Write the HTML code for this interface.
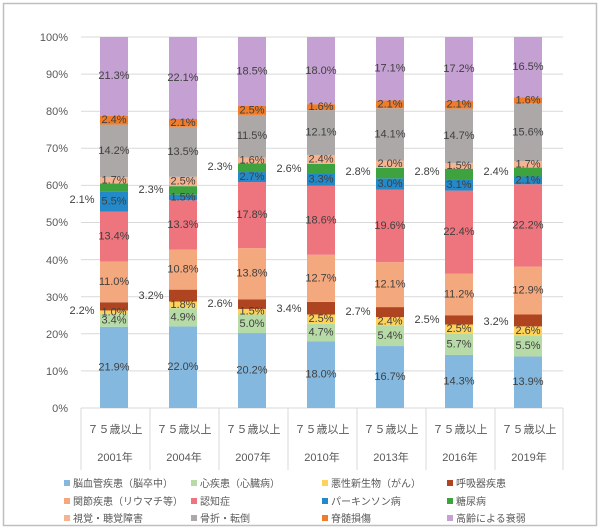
<!DOCTYPE html>
<html><head><meta charset="utf-8"><style>
html,body{margin:0;padding:0;background:#fff}
svg{display:block;font-family:"Liberation Sans","Noto Sans CJK JP",sans-serif}
.l{font-size:11px;fill:#404040;text-anchor:middle}
.a{font-size:11px;fill:#595959}
.g{font-size:10px;fill:#595959}
</style></head><body>
<svg width="600" height="530" viewBox="0 0 600 530">
<rect x="3.5" y="3.5" width="593" height="522" fill="#fff" stroke="#bfbfbf" stroke-width="1.5"/>
<g stroke="#d9d9d9" stroke-width="1">
<line x1="81" x2="563" y1="37" y2="37"/><line x1="81" x2="563" y1="74.1" y2="74.1"/><line x1="81" x2="563" y1="111.2" y2="111.2"/><line x1="81" x2="563" y1="148.3" y2="148.3"/><line x1="81" x2="563" y1="185.4" y2="185.4"/><line x1="81" x2="563" y1="222.5" y2="222.5"/><line x1="81" x2="563" y1="259.6" y2="259.6"/><line x1="81" x2="563" y1="296.7" y2="296.7"/><line x1="81" x2="563" y1="333.8" y2="333.8"/><line x1="81" x2="563" y1="370.9" y2="370.9"/><line x1="81" x2="563" y1="408" y2="408"/>
<line x1="81" x2="81" y1="408" y2="470"/><line x1="150" x2="150" y1="408" y2="470"/><line x1="219" x2="219" y1="408" y2="470"/><line x1="288" x2="288" y1="408" y2="470"/><line x1="357" x2="357" y1="408" y2="470"/><line x1="426" x2="426" y1="408" y2="470"/><line x1="495" x2="495" y1="408" y2="470"/><line x1="563" x2="563" y1="408" y2="470"/>
</g>
<g class="a" text-anchor="end">
<text x="68" y="41">100%</text><text x="68" y="78">90%</text><text x="68" y="115">80%</text><text x="68" y="152">70%</text><text x="68" y="189">60%</text><text x="68" y="226">50%</text><text x="68" y="264">40%</text><text x="68" y="301">30%</text><text x="68" y="338">20%</text><text x="68" y="375">10%</text><text x="68" y="412">0%</text>
</g>
<g class="a" text-anchor="middle">
<text x="115" y="433">７５歳以上</text><text x="184" y="433">７５歳以上</text><text x="253" y="433">７５歳以上</text><text x="322" y="433">７５歳以上</text><text x="391" y="433">７５歳以上</text><text x="460" y="433">７５歳以上</text><text x="529" y="433">７５歳以上</text>
<text x="115" y="461">2001年</text><text x="184" y="461">2004年</text><text x="253" y="461">2007年</text><text x="322" y="461">2010年</text><text x="391" y="461">2013年</text><text x="460" y="461">2016年</text><text x="529" y="461">2019年</text>
</g>
<g transform="translate(0,408) scale(1,-3.71)">
<g transform="translate(100,0)">
<rect width="28" y="0" height="21.9" fill="#85b8de"/><rect width="28" y="21.9" height="3.4" fill="#b6dba6"/><rect width="28" y="25.3" height="1.0" fill="#fdd35a"/><rect width="28" y="26.3" height="2.2" fill="#ae4520"/><rect width="28" y="28.5" height="11.0" fill="#f4a87e"/><rect width="28" y="39.5" height="13.4" fill="#ee747d"/><rect width="28" y="52.9" height="5.5" fill="#2389c8"/><rect width="28" y="58.4" height="2.1" fill="#3ea23e"/><rect width="28" y="60.5" height="1.7" fill="#f6b38f"/><rect width="28" y="62.2" height="14.2" fill="#aca8a8"/><rect width="28" y="76.4" height="2.4" fill="#ef7c2a"/><rect width="28" y="78.8" height="21.2" fill="#c5a0d2"/>
</g>
<g transform="translate(169,0)">
<rect width="28" y="0" height="22" fill="#85b8de"/><rect width="28" y="22" height="4.9" fill="#b6dba6"/><rect width="28" y="26.9" height="1.8" fill="#fdd35a"/><rect width="28" y="28.7" height="3.2" fill="#ae4520"/><rect width="28" y="31.9" height="10.8" fill="#f4a87e"/><rect width="28" y="42.7" height="13.3" fill="#ee747d"/><rect width="28" y="56" height="1.5" fill="#2389c8"/><rect width="28" y="57.5" height="2.3" fill="#3ea23e"/><rect width="28" y="59.8" height="2.5" fill="#f6b38f"/><rect width="28" y="62.3" height="13.5" fill="#aca8a8"/><rect width="28" y="75.8" height="2.1" fill="#ef7c2a"/><rect width="28" y="77.9" height="22.1" fill="#c5a0d2"/>
</g>
<g transform="translate(238,0)">
<rect width="28" y="0" height="20.2" fill="#85b8de"/><rect width="28" y="20.2" height="5" fill="#b6dba6"/><rect width="28" y="25.2" height="1.5" fill="#fdd35a"/><rect width="28" y="26.7" height="2.6" fill="#ae4520"/><rect width="28" y="29.3" height="13.8" fill="#f4a87e"/><rect width="28" y="43.1" height="17.8" fill="#ee747d"/><rect width="28" y="60.9" height="2.7" fill="#2389c8"/><rect width="28" y="63.6" height="2.3" fill="#3ea23e"/><rect width="28" y="65.9" height="1.6" fill="#f6b38f"/><rect width="28" y="67.5" height="11.5" fill="#aca8a8"/><rect width="28" y="79" height="2.5" fill="#ef7c2a"/><rect width="28" y="81.5" height="18.5" fill="#c5a0d2"/>
</g>
<g transform="translate(307,0)">
<rect width="28" y="0" height="18" fill="#85b8de"/><rect width="28" y="18" height="4.7" fill="#b6dba6"/><rect width="28" y="22.7" height="2.5" fill="#fdd35a"/><rect width="28" y="25.2" height="3.4" fill="#ae4520"/><rect width="28" y="28.6" height="12.7" fill="#f4a87e"/><rect width="28" y="41.3" height="18.6" fill="#ee747d"/><rect width="28" y="59.9" height="3.3" fill="#2389c8"/><rect width="28" y="63.2" height="2.6" fill="#3ea23e"/><rect width="28" y="65.8" height="2.4" fill="#f6b38f"/><rect width="28" y="68.2" height="12.1" fill="#aca8a8"/><rect width="28" y="80.3" height="1.6" fill="#ef7c2a"/><rect width="28" y="81.9" height="18.1" fill="#c5a0d2"/>
</g>
<g transform="translate(376,0)">
<rect width="28" y="0" height="16.7" fill="#85b8de"/><rect width="28" y="16.7" height="5.4" fill="#b6dba6"/><rect width="28" y="22.1" height="2.4" fill="#fdd35a"/><rect width="28" y="24.5" height="2.7" fill="#ae4520"/><rect width="28" y="27.2" height="12.1" fill="#f4a87e"/><rect width="28" y="39.3" height="19.6" fill="#ee747d"/><rect width="28" y="58.9" height="3" fill="#2389c8"/><rect width="28" y="61.9" height="2.8" fill="#3ea23e"/><rect width="28" y="64.7" height="2" fill="#f6b38f"/><rect width="28" y="66.7" height="14.1" fill="#aca8a8"/><rect width="28" y="80.8" height="2.1" fill="#ef7c2a"/><rect width="28" y="82.9" height="17.1" fill="#c5a0d2"/>
</g>
<g transform="translate(445,0)">
<rect width="28" y="0" height="14.3" fill="#85b8de"/><rect width="28" y="14.3" height="5.7" fill="#b6dba6"/><rect width="28" y="20" height="2.5" fill="#fdd35a"/><rect width="28" y="22.5" height="2.5" fill="#ae4520"/><rect width="28" y="25" height="11.2" fill="#f4a87e"/><rect width="28" y="36.2" height="22.4" fill="#ee747d"/><rect width="28" y="58.6" height="3.1" fill="#2389c8"/><rect width="28" y="61.7" height="2.8" fill="#3ea23e"/><rect width="28" y="64.5" height="1.5" fill="#f6b38f"/><rect width="28" y="66" height="14.7" fill="#aca8a8"/><rect width="28" y="80.7" height="2.1" fill="#ef7c2a"/><rect width="28" y="82.8" height="17.2" fill="#c5a0d2"/>
</g>
<g transform="translate(514,0)">
<rect width="28" y="0" height="13.9" fill="#85b8de"/><rect width="28" y="13.9" height="5.5" fill="#b6dba6"/><rect width="28" y="19.4" height="2.6" fill="#fdd35a"/><rect width="28" y="22" height="3.2" fill="#ae4520"/><rect width="28" y="25.2" height="12.9" fill="#f4a87e"/><rect width="28" y="38.1" height="22.2" fill="#ee747d"/><rect width="28" y="60.3" height="2.1" fill="#2389c8"/><rect width="28" y="62.4" height="2.4" fill="#3ea23e"/><rect width="28" y="64.8" height="1.7" fill="#f6b38f"/><rect width="28" y="66.5" height="15.6" fill="#aca8a8"/><rect width="28" y="82.1" height="1.6" fill="#ef7c2a"/><rect width="28" y="83.7" height="16.3" fill="#c5a0d2"/>
</g>
</g>
<g class="l" dominant-baseline="central">
<text x="114" y="367.4">21.9%</text><text x="114" y="320.4">3.4%</text><text x="114" y="312.3">1.0%</text><text x="114" y="281.9">11.0%</text><text x="114" y="236.6">13.4%</text><text x="114" y="201.5">5.5%</text><text x="114" y="180.4">1.7%</text><text x="114" y="150.9">14.2%</text><text x="114" y="120.1">2.4%</text><text x="114" y="76.1">21.3%</text>
<text x="82" y="311">2.2%</text><text x="82" y="200">2.1%</text>
<text x="183" y="367.2">22.0%</text><text x="183" y="317.3">4.9%</text><text x="183" y="304.9">1.8%</text><text x="183" y="269.6">10.8%</text><text x="183" y="224.9">13.3%</text><text x="183" y="197.5">1.5%</text><text x="183" y="181.5">2.5%</text><text x="183" y="151.8">13.5%</text><text x="183" y="122.9">2.1%</text><text x="183" y="78">22.1%</text>
<text x="151" y="296">3.2%</text><text x="151" y="190">2.3%</text>
<text x="252" y="370.5">20.2%</text><text x="252" y="323.8">5.0%</text><text x="252" y="311.7">1.5%</text><text x="252" y="273.7">13.8%</text><text x="252" y="215.1">17.8%</text><text x="252" y="177">2.7%</text><text x="252" y="160.5">1.6%</text><text x="252" y="136.2">11.5%</text><text x="252" y="110.3">2.5%</text><text x="252" y="71.3">18.5%</text>
<text x="220" y="304">2.6%</text><text x="220" y="167">2.3%</text>
<text x="321" y="374.6">18.0%</text><text x="321" y="332.5">4.7%</text><text x="321" y="319.1">2.5%</text><text x="321" y="278.3">12.7%</text><text x="321" y="220.3">18.6%</text><text x="321" y="179.6">3.3%</text><text x="321" y="159.4">2.4%</text><text x="321" y="132.5">12.1%</text><text x="321" y="107.1">1.6%</text><text x="321" y="70.8">18.0%</text>
<text x="289" y="309">3.4%</text><text x="289" y="169">2.6%</text>
<text x="390" y="377">16.7%</text><text x="390" y="336">5.4%</text><text x="390" y="321.6">2.4%</text><text x="390" y="284.6">12.1%</text><text x="390" y="225.8">19.6%</text><text x="390" y="183.9">3.0%</text><text x="390" y="164.2">2.0%</text><text x="390" y="134.4">14.1%</text><text x="390" y="104.3">2.1%</text><text x="390" y="68.7">17.1%</text>
<text x="358" y="312">2.7%</text><text x="358" y="172">2.8%</text>
<text x="459" y="381.5">14.3%</text><text x="459" y="344.4">5.7%</text><text x="459" y="329.2">2.5%</text><text x="459" y="294.5">11.2%</text><text x="459" y="232.1">22.4%</text><text x="459" y="184.8">3.1%</text><text x="459" y="165.9">1.5%</text><text x="459" y="135.9">14.7%</text><text x="459" y="104.7">2.1%</text><text x="459" y="68.9">17.2%</text>
<text x="427" y="320">2.5%</text><text x="427" y="172">2.8%</text>
<text x="528" y="382.2">13.9%</text><text x="528" y="346.2">5.5%</text><text x="528" y="331.2">2.6%</text><text x="528" y="290.6">12.9%</text><text x="528" y="225.5">22.2%</text><text x="528" y="180.4">2.1%</text><text x="528" y="164.4">1.7%</text><text x="528" y="132.3">15.6%</text><text x="528" y="100.4">1.6%</text><text x="528" y="66.9">16.5%</text>
<text x="496" y="322">3.2%</text><text x="496" y="172">2.4%</text>
</g>
<g class="g">
<rect x="64" y="480" width="6" height="6" fill="#85b8de"/><text x="73" y="487">脳血管疾患（脳卒中）</text>
<rect x="191" y="480" width="6" height="6" fill="#b6dba6"/><text x="200" y="487">心疾患（心臓病）</text>
<rect x="322" y="480" width="6" height="6" fill="#fdd35a"/><text x="331" y="487">悪性新生物（がん）</text>
<rect x="447" y="480" width="6" height="6" fill="#ae4520"/><text x="456" y="487">呼吸器疾患</text>
<rect x="64" y="498" width="6" height="6" fill="#f4a87e"/><text x="73" y="505">関節疾患（リウマチ等）</text>
<rect x="191" y="498" width="6" height="6" fill="#ee747d"/><text x="200" y="505">認知症</text>
<rect x="322" y="498" width="6" height="6" fill="#2389c8"/><text x="331" y="505">パーキンソン病</text>
<rect x="447" y="498" width="6" height="6" fill="#3ea23e"/><text x="456" y="505">糖尿病</text>
<rect x="64" y="515" width="6" height="6" fill="#f6b38f"/><text x="73" y="522">視覚・聴覚障害</text>
<rect x="191" y="515" width="6" height="6" fill="#aca8a8"/><text x="200" y="522">骨折・転倒</text>
<rect x="322" y="515" width="6" height="6" fill="#ef7c2a"/><text x="331" y="522">脊髄損傷</text>
<rect x="447" y="515" width="6" height="6" fill="#c5a0d2"/><text x="456" y="522">高齢による衰弱</text>
</g>
</svg>
</body></html>
